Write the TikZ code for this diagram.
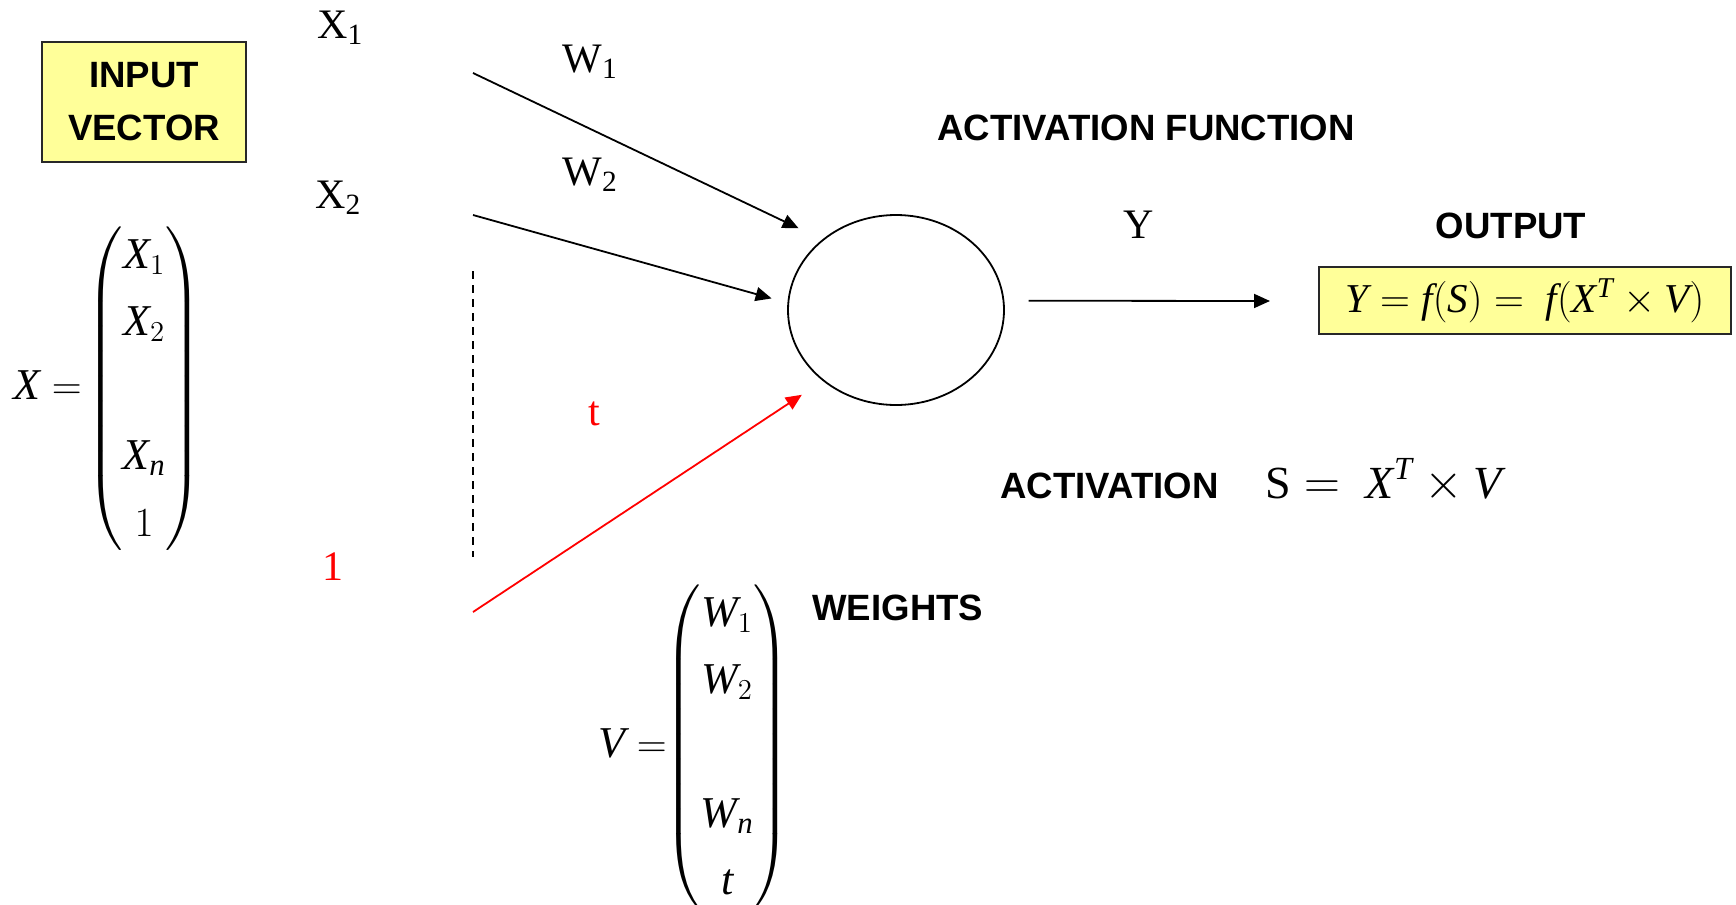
\documentclass[tikz,border=0pt]{standalone}
\usepackage{amsmath}
\usepackage{fontspec}
\setmainfont{Liberation Serif}
\setsansfont{Liberation Sans}
\newfontfamily\lserit{Liberation Serif}[NFSSFamily=lsrf]
\DeclareSymbolFont{lsrletters}{TU}{lsrf}{m}{it}
\DeclareMathSymbol{S}{\mathalpha}{lsrletters}{`S}
\DeclareMathSymbol{T}{\mathalpha}{lsrletters}{`T}
\DeclareMathSymbol{V}{\mathalpha}{lsrletters}{`V}
\DeclareMathSymbol{W}{\mathalpha}{lsrletters}{`W}
\DeclareMathSymbol{X}{\mathalpha}{lsrletters}{`X}
\DeclareMathSymbol{Y}{\mathalpha}{lsrletters}{`Y}
\DeclareMathSymbol{f}{\mathalpha}{lsrletters}{`f}
\DeclareMathSymbol{n}{\mathalpha}{lsrletters}{`n}
\DeclareMathSymbol{t}{\mathalpha}{lsrletters}{`t}
\delimitershortfall=16pt\relax
\delimiterfactor=850\relax
\usetikzlibrary{arrows.meta, positioning, shapes.geometric}
\definecolor{boxyellow}{RGB}{255, 255, 153}
\definecolor{boxedge}{RGB}{40, 40, 40}

\begin{document}
\begin{tikzpicture}[x=0.5pt, y=-0.5pt,
    tag/.style={font=\fontsize{18.3}{26.5}\selectfont\sffamily\bfseries, inner sep=0pt},
    lbl/.style={font=\fontsize{21}{25}\selectfont, inner sep=0pt, anchor=base west},
    vec/.style={font=\fontsize{22}{33.5}\selectfont, inner sep=0pt, anchor=west},
    ybox/.style={draw=boxedge, line width=0.8pt, fill=boxyellow},
    arr/.style={-{Triangle[length=8pt, width=7pt]}, line width=0.9pt},
    dashline/.style={line width=1pt, dash pattern=on 4pt off 3pt}
  ]
    \useasboundingbox (0,0) rectangle (1736,905);

    % input side
    \node[ybox, tag, minimum width=102pt, minimum height=60pt, align=center] (invec) at (144,102) {INPUT\\VECTOR};
    \node[vec] (xvec) at (13,389) {\setlength{\arraycolsep}{7pt}%
        $X = \!\begin{pmatrix} X_{1}\\ X_{2}\\ \\ X_{n}\\ 1 \end{pmatrix}$};
    \node[lbl] (x1) at (317,38) {X\textsubscript{1}};
    \node[lbl] (x2) at (315,208) {X\textsubscript{2}};
    \node[lbl, red] (one) at (322,580) {1};
    \node[lbl] (w1) at (562,72) {W\textsubscript{1}};
    \node[lbl] (w2) at (562,185) {W\textsubscript{2}};
    \node[lbl, red] (tlbl) at (588,425) {t};

    \coordinate (a1) at (473,73);
    \coordinate (a2) at (473,215);
    \coordinate (a3) at (473,612);
    \coordinate (d1) at (473,271);
    \coordinate (d2) at (473,557);
    \draw[dashline] (d1) -- (d2);

    % neuron
    \node[draw, ellipse, minimum width=108pt, minimum height=95pt, inner sep=0pt,
          outer sep=12.5pt, line width=0.9pt] (neuron) at (896,310) {};
    \node[tag] (actf) at (1146,128) {ACTIVATION FUNCTION};
    \draw[arr] (a1) -- (neuron.140);
    \draw[arr] (a2) -- ([xshift=4pt]neuron.175);
    \draw[arr, red] (a3) -- (neuron.222);

    % output
    \node[ybox, minimum width=206pt, minimum height=33.5pt, font=\fontsize{20.5}{24}\selectfont] (outbox) at (1525,300.5)
        {$Y = f(S) =\ f(X^{T}\times V)$};
    \node[tag] (outlbl) at (1511,226) {OUTPUT};
    \node[lbl] (ylbl) at (1123,238) {Y};
    \coordinate (yend) at (1270,301);
    \draw[arr] (neuron.4) -- (yend);

    % activation and weights
    \node[anchor=base west, inner sep=0pt, font=\fontsize{23}{27}\selectfont] (sform) at (1265,498)
        {$\mathrm{S} =\ X^{T}\times V$};
    \node[tag, anchor=base east] (act) at ([xshift=-23pt]sform.base west) {ACTIVATION};
    \node[vec] (vvec) at (598,747) {\setlength{\arraycolsep}{4pt}%
        $V = \!\!\begin{pmatrix} W_{1}\\ W_{2}\\ \\ W_{n}\\ t \end{pmatrix}$};
    \node[tag, anchor=base west] (wgt) at (812,620) {WEIGHTS};
\end{tikzpicture}
\end{document}
